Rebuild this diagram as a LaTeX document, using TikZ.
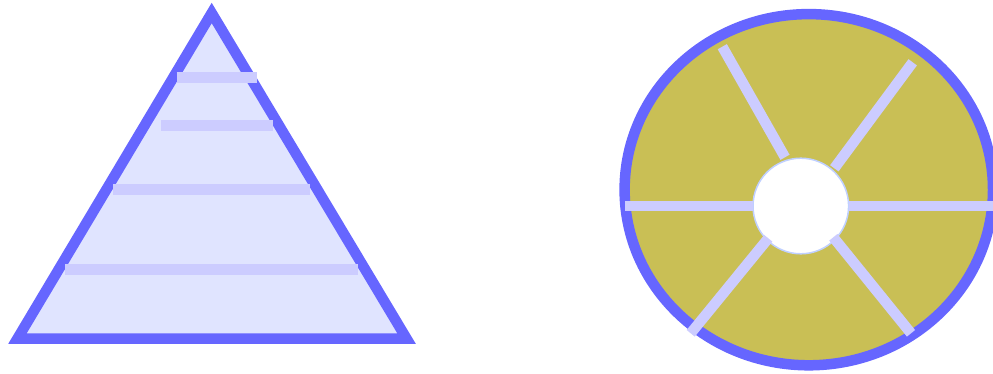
\documentclass[tikz,border=0pt]{standalone}
\usepackage{tikz}
\definecolor{edgeBlue}{RGB}{102, 102, 255}
\definecolor{paleBlue}{RGB}{224, 228, 255}
\definecolor{barBlue}{RGB}{204, 204, 255}
\definecolor{wheelOlive}{RGB}{201, 191, 85}
\definecolor{hubRing}{RGB}{192, 208, 255}
\tikzset{
  outline/.style={draw=edgeBlue, line width=10.5pt},
  bar/.style={barBlue, line width=10.5pt}
}

\begin{document}
\begin{tikzpicture}[x=1pt, y=-1pt]
        \useasboundingbox (0,0) rectangle (993,374);
        % triangle with its rungs
        \draw[outline, fill=paleBlue] (211.7,13) -- (406.5,338.5) -- (17.5,338.5) -- cycle;
        \draw[bar] (176.7,77.7) -- (257,77.7);
        \draw[bar] (161,125.7) -- (273,125.7);
        \draw[bar] (113,189.7) -- (310.3,189.7);
        \draw[bar] (65,269.7) -- (358.3,269.7);
        % wheel with hub and spokes
        \draw[outline, fill=wheelOlive] (808.8,189.7) ellipse (184.2 and 175.6);
        \draw[hubRing, line width=1.5pt, fill=white] (800.8,206) circle (47.8);
        \draw[bar] (625,205.8) -- (753,205.8);
        \draw[bar] (849,205.8) -- (995,205.8);
        \draw[bar] (785,157.3) -- (722.3,46.7);
        \draw[bar] (834.3,168.3) -- (912.7,62.3);
        \draw[bar] (768.3,238.3) -- (690.7,333.3);
        \draw[bar] (833.3,237.3) -- (911,333.3);
      \end{tikzpicture}
\end{document}
